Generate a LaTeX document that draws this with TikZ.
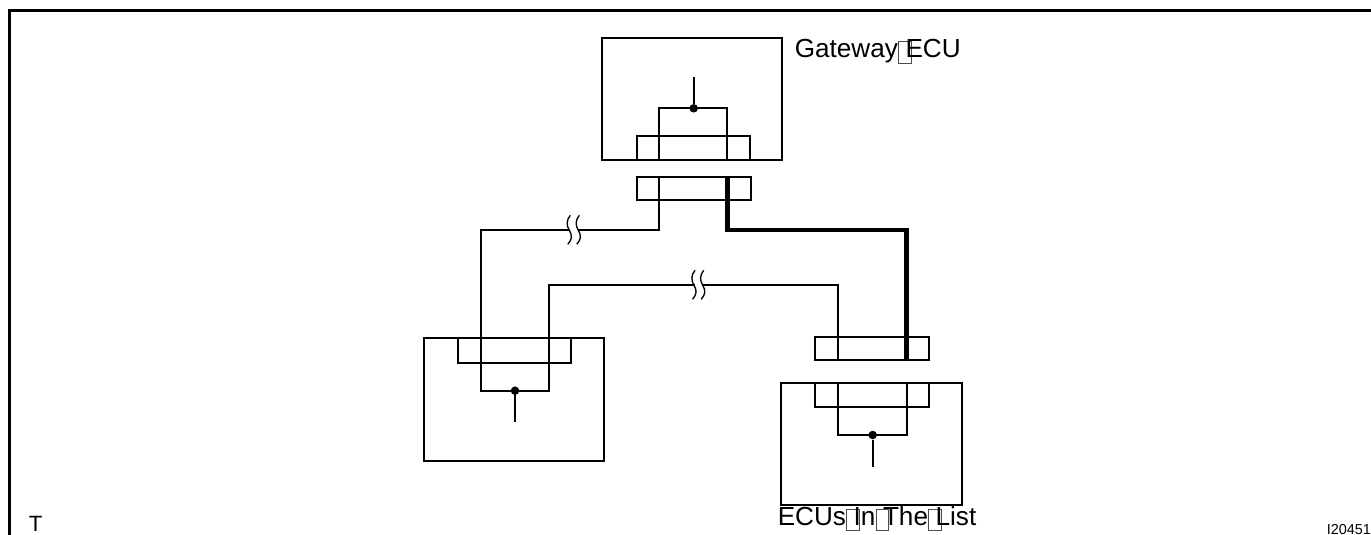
\documentclass[tikz,border=0pt]{standalone}
\usepackage{fontspec}
\setmainfont{Liberation Sans}
\definecolor{tofuline}{gray}{0.3}
\newcommand{\tofu}{\rlap{\kern0.2pt\raisebox{-3.4pt}{\setlength{\fboxrule}{0.6pt}\setlength{\fboxsep}{0pt}\color{tofuline}\fbox{\rule{0pt}{15.4pt}\rule{8.8pt}{0pt}}}}\kern5.7pt}
\tikzset{
  px/.style={x=0.75pt,y=-0.75pt},
  frame/.style={line width=2.3pt},
  box/.style={line width=1.5pt},
  wire/.style={line width=1.3pt,line join=miter},
  thick wire/.style={line width=3.5pt,line cap=butt,line join=miter},
  squiggle/.style={line width=1pt},
  label/.style={inner sep=0pt,anchor=base west,font=\fontsize{19.6}{20}\selectfont},
  corner label/.style={inner sep=0pt,anchor=base west,font=\fontsize{16.6}{17}\selectfont},
  small label/.style={inner sep=0pt,anchor=base west,font=\fontsize{10.8}{12}\selectfont},
  dot/.style={circle,fill=black,inner sep=0pt,minimum size=6.4pt}
}
\begin{document}
\begin{tikzpicture}[px]
\useasboundingbox (0,0) rectangle (1371,535);
\draw[frame] (9.5,535) -- (9.5,10.5) -- (1371,10.5);
% Gateway ECU
\draw[box] (602.3,37.7) rectangle (782.3,160.3);
\draw[box] (636.7,136) rectangle (750.3,160.3);
\draw[box] (636.5,177.3) rectangle (750.7,200.3);
\draw[wire] (659,160.3) -- (659,108.3) -- (727,108.3) -- (727,160.3);
\node[dot] (gd) at (693.7,108.3) {};
\coordinate (gt) at (693.7,77.3);
\draw[wire] (gd) -- (gt);
% left ECU
\draw[box] (424,338) rectangle (603.7,460.7);
\draw[box] (457.7,338) rectangle (571.3,362.7);
\draw[wire] (480.7,362.7) -- (480.7,390.7) -- (549,390.7) -- (549,362.7);
\node[dot] (ld) at (515,390.7) {};
\coordinate (lb) at (515,422);
\draw[wire] (ld) -- (lb);
% right ECU
\draw[box] (781.3,382.7) rectangle (962,505);
\draw[box] (815.3,382.7) rectangle (929.3,407);
\draw[box] (815.3,337) rectangle (929.3,360);
\draw[wire] (838.3,382.7) -- (838.3,435) -- (906.7,435) -- (906.7,382.7);
\node[dot] (rd) at (872.7,435) {};
\coordinate (rb) at (872.7,466.7);
\draw[wire] (rd) -- (rb);
% wires
\draw[wire] (659,177.3) -- (659,230.3) -- (480.7,230.3) -- (480.7,362.7);
\draw[wire] (838.3,360) -- (838.3,285.3) -- (549,285.3) -- (549,362.7);
\draw[thick wire] (727.3,177.3) -- (727.3,230) -- (906.4,230) -- (906.4,360);
% breaks
\fill[white] (570,227) rectangle (578,234);
\fill[white] (695,282) rectangle (703,289);
\foreach \bx/\by in {569.3/230.3, 578.3/230.3, 694/285.3, 702.7/285.3}{
  \draw[squiggle] (\bx+1,\by-15) .. controls (\bx-3,\by-10) and (\bx-3,\by-5) .. (\bx,\by) .. controls (\bx+3,\by+5) and (\bx+3,\by+9) .. (\bx-1.5,\by+14);
}
\node[label] (g) at (794.5,58) {Gateway\tofu ECU};
\node[label] (e) at (777.5,525.7) {ECUs\tofu In\tofu The\tofu List};
\node[corner label] (t) at (28.6,531) {T};
\node[small label] (i) at (1326.5,534) {I20451};
\end{tikzpicture}
\end{document}
